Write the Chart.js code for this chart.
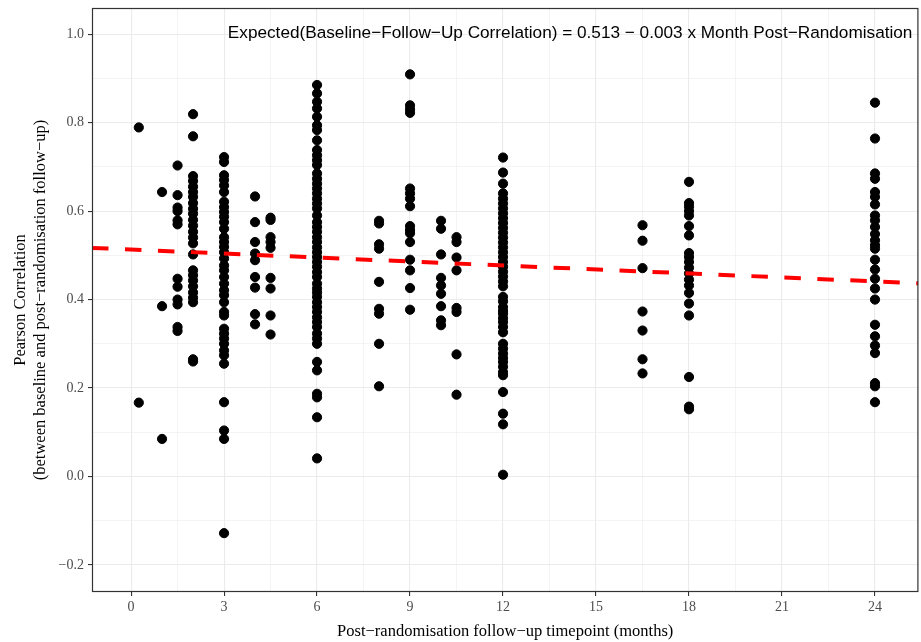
<!DOCTYPE html>
<html>
<head>
<meta charset="utf-8">
<script src="https://cdn.jsdelivr.net/npm/chart.js@4.4.1/dist/chart.umd.min.js"></script>
<style>
  html, body { margin: 0; padding: 0; background: #fff; overflow: hidden; }
  #wrap { width: 921px; height: 642px; overflow: hidden; }
  canvas { display: block; }
</style>
</head>
<body>
<div id="wrap"><canvas id="chart" width="924" height="642"></canvas></div>
<script>
// ---- data ----
const months = [0.25, 1, 1.5, 2, 3, 4, 4.5, 6, 8, 9, 10, 10.5, 12, 16.5, 18, 24];

const r_m0_25 = [0.789, 0.167];
const r_m1    = [0.643, 0.385, 0.085];
const r_m1_5  = [0.703, 0.636, 0.608, 0.600, 0.579, 0.570, 0.447, 0.429, 0.400, 0.389, 0.338, 0.329];
const r_m2    = [0.819, 0.769, 0.679, 0.668, 0.655, 0.643, 0.632, 0.618, 0.605, 0.594, 0.580, 0.567, 0.553,
                 0.540, 0.527, 0.502, 0.466, 0.455, 0.443, 0.430, 0.416, 0.404, 0.394, 0.265, 0.260];
const r_m3    = [0.722, 0.711, 0.681, 0.670, 0.658, 0.643, 0.621, 0.609, 0.598, 0.587, 0.575, 0.560, 0.541,
                 0.530, 0.519, 0.507, 0.493, 0.477, 0.466, 0.451, 0.436, 0.421, 0.410, 0.394, 0.372, 0.364,
                 0.334, 0.323, 0.312, 0.300, 0.285, 0.274, 0.255, 0.168, 0.104, 0.085, -0.128];
const r_m4    = [0.633, 0.575, 0.530, 0.504, 0.489, 0.451, 0.427, 0.367, 0.344];
const r_m4_5  = [0.585, 0.580, 0.541, 0.530, 0.517, 0.449, 0.425, 0.364, 0.321];
const r_m6    = [0.885, 0.866, 0.847, 0.832, 0.813, 0.794, 0.783, 0.760, 0.738, 0.726, 0.715, 0.704, 0.685,
                 0.673, 0.662, 0.651, 0.640, 0.628, 0.617, 0.606, 0.590, 0.575, 0.564, 0.553, 0.541, 0.530,
                 0.518, 0.507, 0.496, 0.485, 0.474, 0.462, 0.451, 0.436, 0.425, 0.416, 0.406, 0.394, 0.383,
                 0.372, 0.360, 0.349, 0.338, 0.323, 0.312, 0.300, 0.259, 0.240, 0.187, 0.179, 0.134, 0.041];
const r_m8    = [0.578, 0.572, 0.525, 0.515, 0.440, 0.379, 0.368, 0.300, 0.204];
const r_m9    = [0.909, 0.839, 0.830, 0.822, 0.651, 0.640, 0.628, 0.611, 0.566, 0.557, 0.550, 0.530, 0.490,
                 0.466, 0.426, 0.377];
const r_m10   = [0.578, 0.560, 0.502, 0.449, 0.432, 0.413, 0.385, 0.353, 0.342];
const r_m10_5 = [0.541, 0.530, 0.495, 0.466, 0.381, 0.372, 0.276, 0.185];
const r_m12   = [0.721, 0.687, 0.662, 0.640, 0.628, 0.617, 0.606, 0.595, 0.584, 0.573, 0.562, 0.551, 0.540,
                 0.529, 0.518, 0.507, 0.496, 0.485, 0.474, 0.463, 0.452, 0.441, 0.430, 0.406, 0.396, 0.383,
                 0.374, 0.368, 0.358, 0.349, 0.338, 0.326, 0.300, 0.289, 0.278, 0.268, 0.259, 0.248, 0.236,
                 0.229, 0.191, 0.142, 0.118, 0.004];
const r_m16_5 = [0.568, 0.533, 0.471, 0.373, 0.330, 0.265, 0.233];
const r_m18   = [0.666, 0.618, 0.610, 0.600, 0.590, 0.566, 0.545, 0.505, 0.496, 0.485, 0.472, 0.459, 0.445,
                 0.432, 0.415, 0.391, 0.364, 0.225, 0.158, 0.152];
const r_m24   = [0.845, 0.764, 0.685, 0.673, 0.643, 0.632, 0.615, 0.590, 0.579, 0.564, 0.548, 0.534, 0.523,
                 0.515, 0.490, 0.468, 0.447, 0.425, 0.400, 0.343, 0.317, 0.296, 0.279, 0.211, 0.204, 0.168];

const corrByMonth = [r_m0_25, r_m1, r_m1_5, r_m2, r_m3, r_m4, r_m4_5, r_m6, r_m8, r_m9, r_m10, r_m10_5,
                     r_m12, r_m16_5, r_m18, r_m24];

// fitted line
const fitIntercept = 0.513;
const fitSlope = -0.003;

// axes
const xMin = -1.26, xMax = 25.4;
const yMin = -0.261, yMax = 1.059;
const xTickValues = [0, 1.5, 3, 4.5, 6, 7.5, 9, 10.5, 12, 13.5, 15, 16.5, 18, 19.5, 21, 22.5, 24];
const yTickValues = [-0.2, -0.1, 0.0, 0.1, 0.2, 0.3, 0.4, 0.5, 0.6, 0.7, 0.8, 0.9, 1.0];

const annotationText = 'Expected(Baseline\u2212Follow\u2212Up Correlation) = 0.513 \u2212 0.003 x Month Post\u2212Randomisation';

// ---- build datasets ----
const points = [];
months.forEach((m, i) => {
  corrByMonth[i].forEach(r => points.push({ x: m, y: r }));
});
const fitLine = [xMin, xMax].map(x => ({ x: x, y: fitIntercept + fitSlope * x }));

const isMajorX = v => Math.abs(v / 3 - Math.round(v / 3)) < 1e-6;
const isMajorY = v => Math.abs(v * 5 - Math.round(v * 5)) < 1e-6;

const serif = "'Liberation Serif', 'DejaVu Serif', serif";
const noPadding = () => ({ left: 0, top: 0, right: 0, bottom: 0 });

// panel border + annotation text
const panelPlugin = {
  id: 'panel',
  afterDatasetsDraw(chart) {
    const { ctx, chartArea: a } = chart;
    ctx.save();
    ctx.font = "17.2px 'Liberation Sans', Arial, sans-serif";
    ctx.fillStyle = '#000';
    ctx.textAlign = 'right';
    ctx.textBaseline = 'middle';
    ctx.fillText(annotationText, a.right - 6, chart.scales.y.getPixelForValue(1.0) - 1);
    ctx.restore();
  },
  afterDraw(chart) {
    const { ctx, chartArea: a } = chart;
    ctx.save();
    ctx.strokeStyle = '#333333';
    ctx.lineWidth = 1.2;
    ctx.strokeRect(a.left + 0.5, a.top + 0.5, a.right - a.left - 1, a.bottom - a.top - 1);
    ctx.restore();
  }
};

new Chart(document.getElementById('chart').getContext('2d'), {
  type: 'scatter',
  data: {
    datasets: [
      {
        label: 'correlations',
        data: points,
        backgroundColor: '#000',
        borderColor: '#000',
        pointRadius: 4.6,
        pointHoverRadius: 4.6,
        order: 2
      },
      {
        label: 'fit',
        type: 'line',
        data: fitLine,
        borderColor: '#ff0000',
        borderWidth: 4,
        borderDash: [16.5, 16.5],
        pointRadius: 0,
        fill: false,
        order: 1
      }
    ]
  },
  options: {
    responsive: false,
    animation: false,
    devicePixelRatio: 1,
    layout: { padding: { top: 8, right: 3, left: 11, bottom: 0 } },
    plugins: { legend: { display: false }, tooltip: { enabled: false } },
    scales: {
      x: {
        type: 'linear',
        min: xMin, max: xMax,
        afterBuildTicks: s => { s.ticks = xTickValues.map(v => ({ value: v })); },
        afterFit: s => { s.height = 50; s.getPadding = noPadding; },
        border: { display: false },
        grid: {
          color: '#ebebeb',
          lineWidth: c => (c.tick && isMajorX(c.tick.value)) ? 1.1 : 0.55,
          tickLength: 4,
          tickColor: c => (c.tick && isMajorX(c.tick.value)) ? '#333333' : 'rgba(0,0,0,0)',
          tickWidth: 1.1
        },
        ticks: {
          autoSkip: false,
          maxRotation: 0,
          padding: 3,
          color: '#4d4d4d',
          font: { family: serif, size: 14 },
          callback: v => isMajorX(v) ? String(Math.round(v)) : ''
        },
        title: {
          display: true,
          text: 'Post\u2212randomisation follow\u2212up timepoint (months)',
          color: '#000',
          font: { family: serif, size: 16.5 },
          padding: { top: 0, bottom: 0 }
        }
      },
      y: {
        type: 'linear',
        min: yMin, max: yMax,
        afterBuildTicks: s => { s.ticks = yTickValues.map(v => ({ value: v })); },
        afterFit: s => { s.width = 81; s.getPadding = noPadding; },
        border: { display: false },
        grid: {
          color: '#ebebeb',
          lineWidth: c => (c.tick && isMajorY(c.tick.value)) ? 1.1 : 0.55,
          tickLength: 4,
          tickColor: c => (c.tick && isMajorY(c.tick.value)) ? '#333333' : 'rgba(0,0,0,0)',
          tickWidth: 1.1
        },
        ticks: {
          autoSkip: false,
          padding: 4,
          color: '#4d4d4d',
          font: { family: serif, size: 14 },
          callback: v => isMajorY(v) ? v.toFixed(1).replace('-', '\u2212') : ''
        },
        title: {
          display: true,
          text: ['Pearson Correlation', '(between baseline and post\u2212randomisation follow\u2212up)'],
          color: '#000',
          font: { family: serif, size: 16.5, lineHeight: 1.2 },
          padding: { top: 0, bottom: 0 }
        }
      }
    }
  },
  plugins: [panelPlugin]
});
</script>
</body>
</html>
